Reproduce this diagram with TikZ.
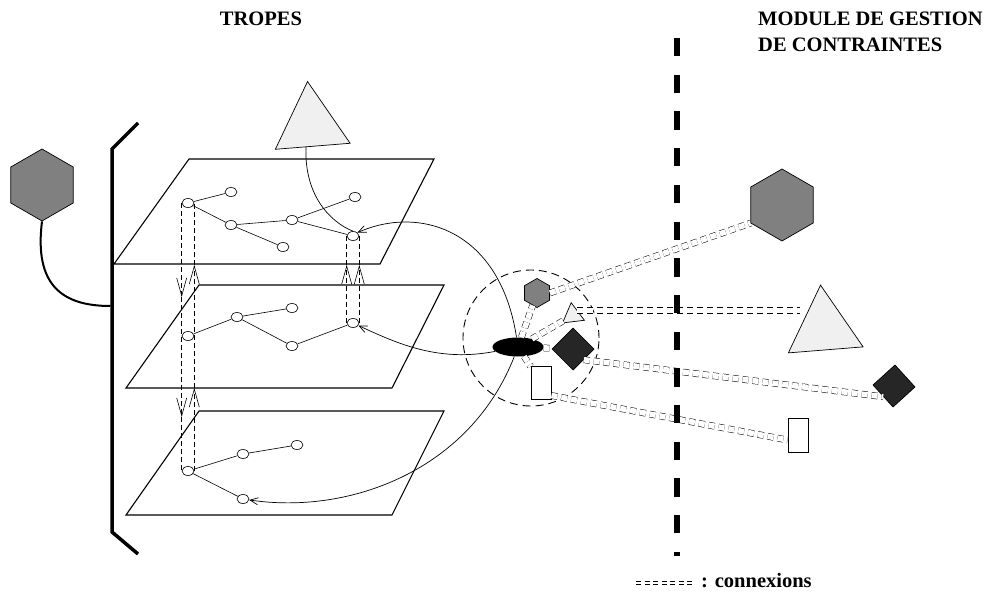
\documentclass[tikz,border=0pt]{standalone}
\usepackage{fontspec}
\setmainfont{Liberation Serif}
\usetikzlibrary{shapes.geometric,arrows.meta}
\definecolor{hexgray}{gray}{0.5}
\definecolor{trigray}{gray}{0.94}
\definecolor{diagray}{gray}{0.15}
\begin{document}
\begin{tikzpicture}[x=1pt,y=-1pt,
 pn/.style={ellipse,draw,fill=white,minimum width=12pt,minimum height=9pt,inner sep=0pt,line width=0.6pt},
 treeedge/.style={line width=0.6pt},
 plane/.style={line width=1.1pt,line join=miter},
 hexa/.style={regular polygon,regular polygon sides=6,shape border rotate=30,draw,fill=hexgray,inner sep=0pt,line width=0.7pt},
 tri/.style={regular polygon,regular polygon sides=3,draw,fill=trigray,inner sep=0pt,line width=0.7pt},
 dia/.style={regular polygon,regular polygon sides=4,draw,fill=diagray,inner sep=0pt,line width=0.7pt},
 rec/.style={rectangle,draw,fill=white,inner sep=0pt,minimum width=20pt,minimum height=33pt,line width=0.9pt},
 conn/.style={dash pattern=on 6pt off 4pt,line width=0.5pt,double distance=5.6pt},
 vdash/.style={dash pattern=on 5pt off 3pt,line width=0.6pt},
 vtip/.style={-{Straight Barb[length=18pt,width=10pt]}},
 curveline/.style={line width=0.7pt},
 curvetip/.style={-{Straight Barb[length=8pt,width=7pt]}},
 title/.style={font=\fontsize{20.5}{24}\selectfont\bfseries,inner sep=0pt}
]
\path[use as bounding box,fill=white] (0,0) rectangle (989,594);

% titles
\node[title,anchor=base] (tTr) at (261,26) {TROPES};
\node[title,anchor=base west] (tM1) at (758,26) {MODULE DE GESTION};
\node[title,anchor=base west] (tM2) at (758,52) {DE CONTRAINTES};

% planes
\draw[plane] (189,159) -- (434,159) -- (380,264) -- (114,264) -- cycle;
\draw[plane] (199,285) -- (444,285) -- (392,388) -- (126,388) -- cycle;
\draw[plane] (199,411) -- (444,411) -- (392,515) -- (126,515) -- cycle;

% bracket
\draw[line width=3.5pt,line join=miter] (138,123) -- (112,149) -- (112,532) -- (138,554);

% plane 1 nodes
\node[pn] (A1) at (188,203) {};
\node[pn] (B1) at (231,192) {};
\node[pn] (C1) at (231,225) {};
\node[pn] (D1) at (292,220) {};
\node[pn] (E1) at (283,247) {};
\node[pn] (F1) at (355,197) {};
\node[pn] (G1) at (353,236) {};
% plane 2 nodes
\node[pn] (A2) at (188,336) {};
\node[pn] (B2) at (237,317) {};
\node[pn] (C2) at (292,308) {};
\node[pn] (D2) at (292,346) {};
\node[pn] (E2) at (353,323) {};
% plane 3 nodes
\node[pn] (A3) at (188,471) {};
\node[pn] (B3) at (243,454) {};
\node[pn] (C3) at (297,445) {};
\node[pn] (D3) at (243,499) {};

\draw[treeedge] (A1) -- (B1);
\draw[treeedge] (A1) -- (C1);
\draw[treeedge] (C1) -- (D1);
\draw[treeedge] (C1) -- (E1);
\draw[treeedge] (D1) -- (F1);
\draw[treeedge] (D1) -- (G1);
\draw[treeedge] (A2) -- (B2);
\draw[treeedge] (B2) -- (C2);
\draw[treeedge] (B2) -- (D2);
\draw[treeedge] (D2) -- (E2);
\draw[treeedge] (A3) -- (B3);
\draw[treeedge] (B3) -- (C3);
\draw[treeedge] (A3) -- (D3);

% vertical dashed links
\coordinate (dT1) at (181,297);
\coordinate (dT2) at (181,417);
\coordinate (uT1) at (194,265);
\coordinate (uT2) at (194,388);
\draw[vdash,vtip] (A1.west) -- (A1.west |- dT1);
\draw[vdash,vtip] (A1.west |- dT1) -- (A1.west |- dT2);
\draw[vdash] (A1.west |- dT2) -- (A3.west);
\draw[vdash,vtip] (A3.east) -- (A3.east |- uT2);
\draw[vdash,vtip] (A3.east |- uT2) -- (A3.east |- uT1);
\draw[vdash] (A3.east |- uT1) -- (A1.east);
\draw[vdash,vtip] (E2.west) -- (E2.west |- uT1);
\draw[vdash] (E2.west |- uT1) -- (G1.west);
\draw[vdash,vtip] (E2.east) -- (E2.east |- uT1);
\draw[vdash] (E2.east |- uT1) -- (G1.east);

% left hexagon and its link to the bracket
\node[hexa,minimum size=72pt] (hexL) at (42,185) {};
\coordinate (brk) at (110.5,306);
\draw[line width=2pt] (hexL.south) .. controls (34,285) and (62,306) .. (brk);

% top triangle
\node[tri,minimum size=86.6pt,shape border rotate=4.6] (triT) at (311,124.7) {};

% group circle and inner shapes
\node[circle,draw,dash pattern=on 8pt off 5pt,line width=0.9pt,minimum size=136pt,inner sep=0pt] (grp) at (531,338) {};
\node[ellipse,fill=black,minimum width=51pt,minimum height=19pt,inner sep=0pt] (ell) at (518,347) {};
\node[hexa,minimum size=29pt] (hexS) at (537,293) {};
\node[tri,minimum size=25.4pt,shape border rotate=7] (triS) at (572.7,315.3) {};
\node[dia,minimum size=42pt,shape border rotate=45] (diaS) at (573,349) {};
\node[rec] (recS) at (541,382.5) {};

% curves
\draw[curveline] ([xshift=-5pt]triT.south) .. controls (304,195) and (330,222) .. (G1.north);
\draw[curveline,curvetip] (ell) .. controls (500,230) and (420,205) .. (G1.north east);
\draw[curveline,curvetip] (ell) .. controls (440,362) and (400,345) .. (E2);
\draw[curveline,curvetip] (ell) .. controls (470,470) and (350,515) .. (D3);

% right shapes
\node[hexa,minimum size=72pt] (hexB) at (782,205) {};
\node[tri,minimum size=86.6pt,shape border rotate=4.6] (triB) at (824,328.3) {};
\node[dia,minimum size=42pt,shape border rotate=42.3] (diaB) at (894,386) {};
\node[rec,minimum height=34pt] (recB) at (798,435) {};

% connexions
\draw[conn] (ell) -- (hexS);
\draw[conn] (ell) -- (triS);
\draw[conn] (ell) -- (diaS);
\draw[conn] (ell) -- (recS);
\draw[conn] (hexS.east) -- (hexB.210);
\draw[conn] (triS.north east) -- (triB.west |- triS.north east);
\draw[conn] (diaS.south east) -- (diaB.south west);
\draw[conn] ([yshift=-13pt]recS.east) -- ([yshift=-5pt]recB.west);

% separator
\draw[line width=6.5pt,dash pattern=on 18.35pt off 18.35pt] (677,38) -- (677,556);

% legend
\coordinate (lg1) at (636,583);
\coordinate (lg2) at (692,583);
\draw[conn,double distance=2.2pt,dash pattern=on 5pt off 3.5pt] (lg1) -- (lg2);
\node[title,anchor=base west] (tLeg) at (701,587) {: connexions};
\end{tikzpicture}
\end{document}
